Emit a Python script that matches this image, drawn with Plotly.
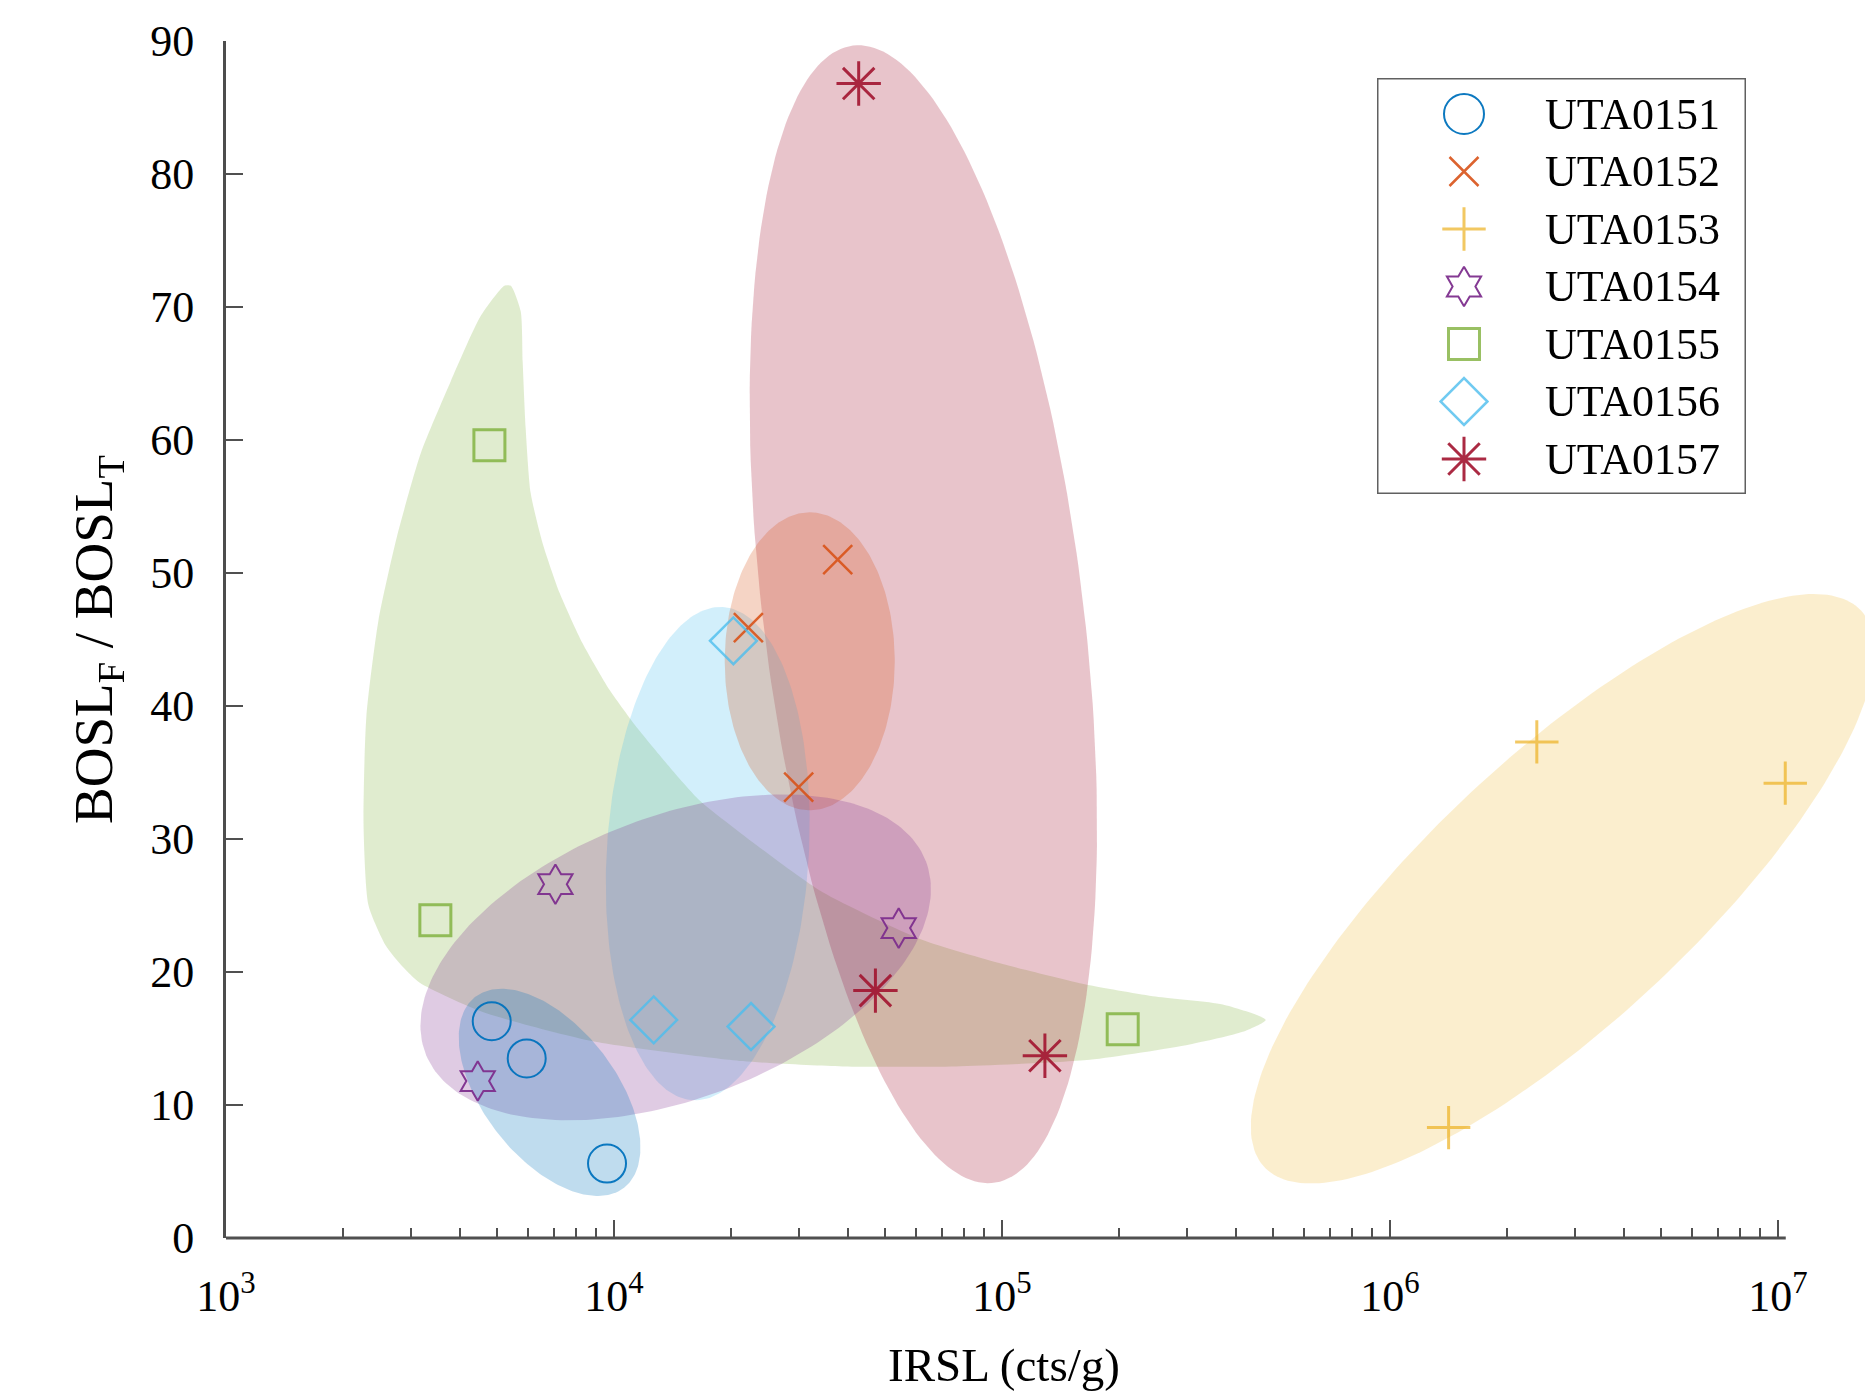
import numpy as np
import plotly.graph_objects as go

# ---------------- data ----------------
series_names = ["UTA0151", "UTA0152", "UTA0153", "UTA0154", "UTA0155", "UTA0156", "UTA0157"]

irsl_151 = [4840, 5957, 9594]
ratio_151 = [16.3, 13.5, 5.6]
irsl_152 = [22200, 37720, 29920]
ratio_152 = [45.9, 51.0, 33.9]
irsl_153 = [2390000, 10440000, 1416000]
ratio_153 = [37.3, 34.2, 8.3]
irsl_154 = [7063, 54170, 4454]
ratio_154 = [26.6, 23.3, 11.8]
irsl_155 = [4774, 3464, 204700]
ratio_155 = [59.6, 23.9, 15.7]
irsl_156 = [20310, 12660, 22550]
ratio_156 = [44.9, 16.4, 15.9]
irsl_157 = [42720, 47180, 129000]
ratio_157 = [86.8, 18.6, 13.7]

x_tick_vals = [1e3, 1e4, 1e5, 1e6, 1e7]
x_tick_text = ["10<sup>3</sup>", "10<sup>4</sup>", "10<sup>5</sup>", "10<sup>6</sup>", "10<sup>7</sup>"]
x_minor_vals = [m * 10 ** e for e in range(3, 7) for m in range(2, 10)]
y_tick_vals = [0, 10, 20, 30, 40, 50, 60, 70, 80, 90]

# outline of the UTA0155 envelope (IRSL, ratio)
outline_155_irsl = [5420, 5747, 5816, 5920, 6100, 6552, 7244, 8304, 9747, 11510, 13920, 16630,
                    24170, 34510, 62460, 100400, 168300, 248900, 370600, 478300, 417300, 304600,
                    168300, 75990, 38850, 21460, 8812, 4587, 3157, 2854, 2580, 2330, 2262, 2300,
                    2470, 2756, 3177, 3794, 4529, 5218]
outline_155_ratio = [71.6, 69.7, 65.9, 60.9, 56.0, 52.2, 48.5, 44.7, 41.2, 38.3, 35.4, 32.9,
                     29.2, 26.0, 22.4, 20.6, 19.0, 18.15, 17.55, 16.4, 15.5, 14.55,
                     13.4, 12.9, 12.9, 13.3, 14.8, 17.0, 19.2, 20.4, 22.0, 25.0, 31.1, 39.2,
                     46.4, 52.7, 59.0, 64.4, 69.3, 71.6]

series_x = [irsl_151, irsl_152, irsl_153, irsl_154, irsl_155, irsl_156, irsl_157]
series_y = [ratio_151, ratio_152, ratio_153, ratio_154, ratio_155, ratio_156, ratio_157]

# ---------------- styles ----------------
colors = ["#0072BD", "#D95319", "#EDB120", "#7E2F8E", "#77AC30", "#4DBEEE", "#A2142F"]
symbols = ["circle-open", "x-thin-open", "cross-thin-open", "hexagram-open",
           "square-open", "diamond-open", "asterisk-open"]
sizes = [38, 29, 31, 30, 31, 36, 37]
line_widths = [2, 2.5, 3, 2, 3, 2.5, 3]
marker_opacity = [0.95, 0.9, 0.7, 0.95, 0.75, 0.8, 0.9]

FONT = "Liberation Serif"
W, H = 1873, 1395
ML, MR, MT, MB = 218, 0, 33, 165
X_RANGE = [3, 3 + (W - ML - MR) / 388.0]
Y_RANGE = [0, 90]
plot_w = W - ML - MR
plot_h = H - MT - MB
px_per_dec = plot_w / (X_RANGE[1] - X_RANGE[0])
px_per_unit = plot_h / (Y_RANGE[1] - Y_RANGE[0])
axis_y_px = H - MB

# envelope ellipses: series index, centre (IRSL, ratio), semi-axes in px, angle (deg)
ellipses = [
    (6, 62700, 46.9, 573, 160, 97.06),
    (5, 17440, 28.9, 247, 101, 86.5),
    (1, 31950, 43.36, 149, 85, 90),
    (3, 14420, 21.1, 268, 141, 21),
    (0, 6823, 10.95, 121, 66, -52),
    (2, 2786000, 26.26, 408, 133, 43),
]
fill_alpha = 0.25


def rgba(hexc, a):
    h = hexc.lstrip("#")
    return "rgba(%d,%d,%d,%.3f)" % (int(h[0:2], 16), int(h[2:4], 16), int(h[4:6], 16), a)


def ellipse(cx, cy, a, b, ang, n=240):
    t = np.linspace(0, 2 * np.pi, n)
    u, v = a * np.cos(t), b * np.sin(t)
    th = np.radians(ang)
    dx = u * np.cos(th) - v * np.sin(th)
    dy = u * np.sin(th) + v * np.cos(th)
    return 10 ** (np.log10(cx) + dx / px_per_dec), cy + dy / px_per_unit


fig = go.Figure()

# green free-form envelope first
fig.add_trace(go.Scatter(
    x=outline_155_irsl + [outline_155_irsl[0]], y=outline_155_ratio + [outline_155_ratio[0]],
    mode="lines", fill="toself", fillcolor=rgba(colors[4], 0.23),
    line=dict(width=0, shape="spline", smoothing=0.6), hoverinfo="skip", showlegend=False))

for idx, cx, cy, a, b, ang in ellipses:
    ex, ey = ellipse(cx, cy, a, b, ang)
    fig.add_trace(go.Scatter(x=ex, y=ey, mode="lines", fill="toself",
                             fillcolor=rgba(colors[idx], fill_alpha if idx != 2 else 0.22),
                             line=dict(width=0), hoverinfo="skip", showlegend=False))

for i, name in enumerate(series_names):
    fig.add_trace(go.Scatter(
        x=series_x[i], y=series_y[i], mode="markers", name=name, showlegend=False,
        cliponaxis=False, opacity=marker_opacity[i],
        marker=dict(symbol=symbols[i], size=sizes[i], color=colors[i],
                    line=dict(color=colors[i], width=line_widths[i]))))

# ---------------- legend (drawn in its own small axes) ----------------
LEG_L, LEG_R, LEG_T, LEG_B = 1369, 1738, 70, 486
leg_w, leg_h = LEG_R - LEG_L, LEG_B - LEG_T
row0, row_step = 36, 57.5
mark_x, text_x = 87, 166

for i, name in enumerate(series_names):
    fig.add_trace(go.Scatter(
        x=[mark_x], y=[leg_h - (row0 + row_step * i)], mode="markers", xaxis="x2", yaxis="y2",
        showlegend=False, cliponaxis=False, opacity=marker_opacity[i], hoverinfo="skip",
        marker=dict(symbol=symbols[i], size=sizes[i] + 2 if i == 0 else sizes[i], color=colors[i],
                    line=dict(color=colors[i], width=line_widths[i]))))

annotations = []
for i, name in enumerate(series_names):
    annotations.append(dict(x=text_x, y=leg_h - (row0 + row_step * i), xref="x2", yref="y2",
                            text=name, showarrow=False, xanchor="left", yanchor="middle",
                            font=dict(family=FONT, size=44, color="black")))

# x-axis title centred on the drawn axis
x_title_px = 996
annotations.append(dict(x=(x_title_px - ML) / plot_w, y=(axis_y_px - (axis_y_px + 127)) / plot_h,
                        xref="paper", yref="paper", text="IRSL (cts/g)", showarrow=False,
                        xanchor="center", yanchor="middle",
                        font=dict(family=FONT, size=47, color="black")))

shapes = [
    dict(type="line", xref="x", yref="paper", x0=1e3, x1=10 ** 7.02, y0=0, y1=0,
         line=dict(color="#505050", width=3)),
    dict(type="rect", xref="x2", yref="y2", x0=0, x1=leg_w, y0=0, y1=leg_h,
         line=dict(color="#606060", width=3), fillcolor="rgba(0,0,0,0)", layer="above"),
]

fig.update_layout(
    width=W, height=H,
    margin=dict(l=ML, r=MR, t=MT, b=MB, pad=0),
    paper_bgcolor="white", plot_bgcolor="white",
    font=dict(family=FONT, size=44, color="black"),
    showlegend=False,
    annotations=annotations,
    shapes=shapes,
    xaxis=dict(type="log", range=X_RANGE, automargin=False,
               tickmode="array", tickvals=x_tick_vals, ticktext=x_tick_text,
               ticks="inside", ticklen=18, tickwidth=2, tickcolor="#505050",
               ticklabelstandoff=28,
               tickfont=dict(family=FONT, size=44, color="black"),
               minor=dict(tickmode="array", tickvals=x_minor_vals, ticks="inside",
                          ticklen=10, tickwidth=2, tickcolor="#505050", showgrid=False),
               showline=False, showgrid=False, zeroline=False),
    yaxis=dict(range=Y_RANGE, automargin=False,
               tickmode="array", tickvals=y_tick_vals,
               ticks="inside", ticklen=17, tickwidth=2, tickcolor="#505050",
               ticklabelstandoff=20,
               tickfont=dict(family=FONT, size=44, color="black"),
               showline=True, linewidth=3, linecolor="#4d4d4d",
               showgrid=False, zeroline=False,
               title=dict(text="BOSL<sub>F</sub> / BOSL<sub>T</sub>",
                          font=dict(family=FONT, size=55, color="black"), standoff=20)),
    xaxis2=dict(domain=[(LEG_L - ML) / plot_w, (LEG_R - ML) / plot_w], range=[0, leg_w],
                anchor="y2", visible=False, fixedrange=True, showticklabels=False),
    yaxis2=dict(domain=[(axis_y_px - LEG_B) / plot_h, (axis_y_px - LEG_T) / plot_h], range=[0, leg_h],
                anchor="x2", visible=False, fixedrange=True, showticklabels=False),
)

fig.write_html("out.html")
